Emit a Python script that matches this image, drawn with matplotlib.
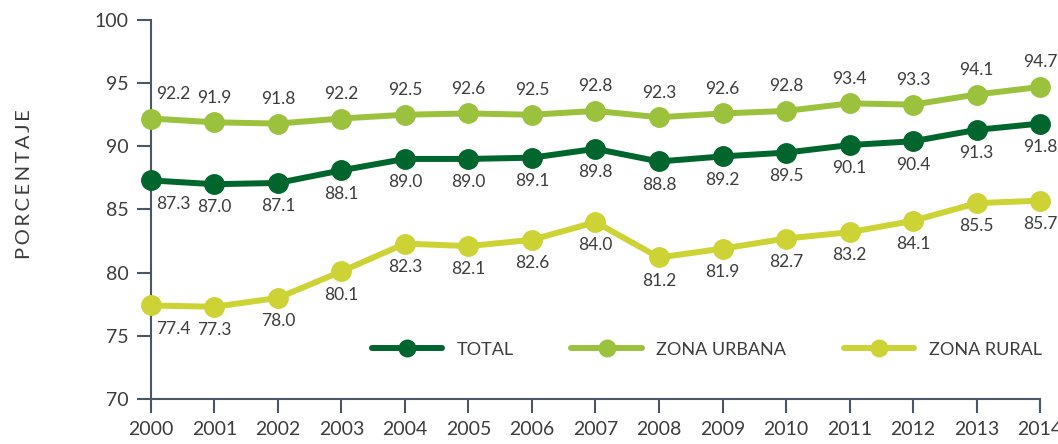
import matplotlib
matplotlib.use("Agg")
import matplotlib.pyplot as plt

years = list(range(2000, 2015))
total = [87.3, 87.0, 87.1, 88.1, 89.0, 89.0, 89.1, 89.8, 88.8, 89.2, 89.5, 90.1, 90.4, 91.3, 91.8]
urbana = [92.2, 91.9, 91.8, 92.2, 92.5, 92.6, 92.5, 92.8, 92.3, 92.6, 92.8, 93.4, 93.3, 94.1, 94.7]
rural = [77.4, 77.3, 78.0, 80.1, 82.3, 82.1, 82.6, 84.0, 81.2, 81.9, 82.7, 83.2, 84.1, 85.5, 85.7]
series_names = ["TOTAL", "ZONA URBANA", "ZONA RURAL"]
yticks = [70, 75, 80, 85, 90, 95, 100]

plt.rcParams['font.family'] = ['Lato', 'DejaVu Sans']
axis_col = "#4b5763"
text_col = "#3d3d3d"
colors = ["#00662e", "#9cc23d", "#cdd334"]

fig = plt.figure(figsize=(10.58, 4.44), dpi=100)
ax = fig.add_axes([0.1427, 0.1014, 0.8403, 0.8536])

for vals, col, name, pos in zip([total, urbana, rural], colors, series_names, ["below", "above", "below"]):
    ax.plot(years, vals, color=col, lw=4.3, marker="o", ms=14, label=name,
            clip_on=False, zorder=3, solid_capstyle="round")
    for i, (x, v) in enumerate(zip(years, vals)):
        dx = 16 if i == 0 else 0
        dy = 12 if pos == "above" else -11
        ax.annotate(f"{v:.1f}", (x, v), xytext=(dx, dy), textcoords="offset points",
                    ha="center", va="bottom" if pos == "above" else "top",
                    fontsize=12.5, color=text_col)

ax.set_xlim(2000, 2014)
ax.set_ylim(70, 100)
ax.set_xticks(years)
ax.set_xticklabels([str(y) for y in years])
ax.set_yticks(yticks)
for s in ["top", "right"]:
    ax.spines[s].set_visible(False)
for s in ["left", "bottom"]:
    ax.spines[s].set_color(axis_col)
    ax.spines[s].set_linewidth(1.5)
ax.tick_params(axis="both", colors=axis_col, width=1.5, length=10, labelsize=14,
               labelcolor=text_col, pad=6)

ax.set_ylabel("\u2009".join("PORCENTAJE"), fontsize=14.5, color=text_col)
ax.yaxis.set_label_coords(-0.1327, 0.566)

leg = ax.legend(loc="center", bbox_to_anchor=(0.625, 0.13), ncol=3, frameon=False,
                fontsize=13, handlelength=3.9, handletextpad=0.8, columnspacing=3.2,
                markerscale=0.85)
for t in leg.get_texts():
    t.set_color(text_col)

fig.savefig("out.png", dpi=100)
